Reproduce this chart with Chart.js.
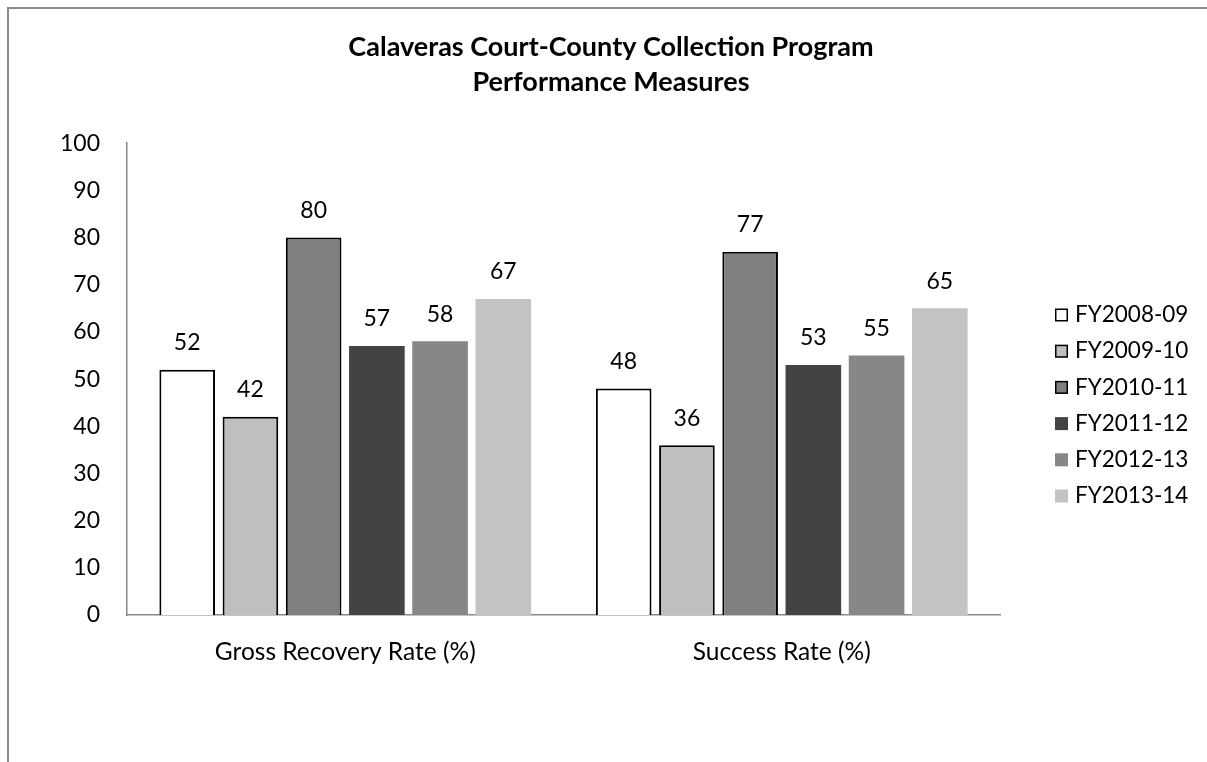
<!DOCTYPE html>
<html>
<head>
<meta charset="utf-8">
<script src="https://cdn.jsdelivr.net/npm/chart.js@4.4.0/dist/chart.umd.min.js"></script>
<style>
  html, body { margin: 0; padding: 0; background: #ffffff; overflow: hidden; }
  #wrap { width: 1207px; height: 762px; position: relative; }
  canvas { display: block; }
</style>
</head>
<body>
<div id="wrap"><canvas id="c" width="1207" height="762"></canvas></div>
<script>
// ---- data ----
const categories = ['Gross Recovery Rate (%)', 'Success Rate (%)'];
const seriesLabels = ['FY2008-09', 'FY2009-10', 'FY2010-11', 'FY2011-12', 'FY2012-13', 'FY2013-14'];
const fy0809 = [52, 48];
const fy0910 = [42, 36];
const fy1011 = [80, 77];
const fy1112 = [57, 53];
const fy1213 = [58, 55];
const fy1314 = [67, 65];
const yTicks = [0, 10, 20, 30, 40, 50, 60, 70, 80, 90, 100];
const titleLines = ['Calaveras Court-County Collection Program', 'Performance Measures'];

// ---- styles ----
const FONT = 'Lato, "Open Sans", sans-serif';
const fills = ['#ffffff', '#bfbfbf', '#7f7f7f', '#434343', '#878787', '#c3c3c3'];
const borders = ['#000000', '#000000', '#000000', '#434343', '#878787', '#c3c3c3'];
const borderWidths = [2, 2, 2, 0, 0, 0];
const seriesValues = [fy0809, fy0910, fy1011, fy1112, fy1213, fy1314];

const datasets = seriesLabels.map((lab, i) => ({
  label: lab,
  data: seriesValues[i],
  backgroundColor: fills[i],
  borderColor: borders[i],
  borderWidth: borderWidths[i],
  borderSkipped: 'bottom',
  categoryPercentage: 0.869,
  barPercentage: 0.88,
  yAxisID: 'y'
}));

const framePlugin = {
  id: 'frame',
  beforeDraw(chart) {
    const ctx = chart.ctx;
    ctx.save();
    ctx.fillStyle = '#ffffff';
    ctx.fillRect(0, 0, chart.width, chart.height);
    ctx.strokeStyle = '#8a8a8a';
    ctx.lineWidth = 2;
    ctx.strokeRect(8, 8, chart.width + 100, chart.height + 100);
    ctx.restore();
  }
};

const labelPlugin = {
  id: 'valueLabels',
  afterDatasetsDraw(chart) {
    const ctx = chart.ctx;
    ctx.save();
    ctx.font = '23px ' + FONT;
    ctx.fillStyle = '#000000';
    ctx.textAlign = 'center';
    ctx.textBaseline = 'middle';
    chart.data.datasets.forEach((ds, di) => {
      const meta = chart.getDatasetMeta(di);
      meta.data.forEach((el, i) => {
        ctx.fillText(String(ds.data[i]), el.x, el.y - 27);
      });
    });
    ctx.restore();
  }
};

const legendPlugin = {
  id: 'sideLegend',
  afterDraw(chart) {
    const ctx = chart.ctx;
    ctx.save();
    ctx.font = '22.5px ' + FONT;
    ctx.textAlign = 'left';
    ctx.textBaseline = 'middle';
    const x0 = chart.chartArea.right + 55;
    const y0 = 315;
    const step = 36.2;
    chart.data.datasets.forEach((ds, i) => {
      const y = y0 + i * step;
      ctx.fillStyle = ds.backgroundColor;
      ctx.fillRect(x0, y - 6.5, 13, 13);
      if (ds.borderWidth > 0) {
        ctx.strokeStyle = ds.borderColor;
        ctx.lineWidth = 1.5;
        ctx.strokeRect(x0 + 0.75, y - 5.75, 11.5, 11.5);
      }
      ctx.fillStyle = '#000000';
      ctx.fillText(ds.label, x0 + 20, y);
    });
    ctx.restore();
  }
};

new Chart(document.getElementById('c'), {
  type: 'bar',
  data: { labels: categories, datasets: datasets },
  options: {
    responsive: false,
    devicePixelRatio: 1,
    animation: false,
    layout: { padding: { top: 0, left: 15, right: 0, bottom: 0 } },
    plugins: {
      legend: { display: false },
      tooltip: { enabled: false },
      title: {
        display: true,
        text: titleLines,
        color: '#000000',
        font: { family: FONT, size: 27, weight: 'bold', lineHeight: 1.3 },
        padding: { top: 30, bottom: 43 }
      }
    },
    scales: {
      x: {
        grid: { display: false, drawTicks: false },
        border: { display: true, color: '#888888', width: 1.5 },
        ticks: { color: '#000000', font: { family: FONT, size: 24.5 }, padding: 22 },
        afterFit(scale) { scale.height = 147; }
      },
      y: {
        min: 0,
        max: 100,
        afterBuildTicks(scale) { scale.ticks = yTicks.map(v => ({ value: v })); },
        grid: { display: false, drawTicks: false },
        border: { display: true, color: '#888888', width: 1.5 },
        ticks: { color: '#000000', font: { family: FONT, size: 23 }, padding: 27 },
        afterFit(scale) { scale.width = 112; }
      },
      spacer: {
        type: 'linear',
        position: 'right',
        display: true,
        grid: { display: false, drawTicks: false },
        border: { display: false },
        ticks: { display: false },
        afterFit(scale) { scale.width = 207; }
      }
    }
  },
  plugins: [framePlugin, labelPlugin, legendPlugin]
});
</script>
</body>
</html>
